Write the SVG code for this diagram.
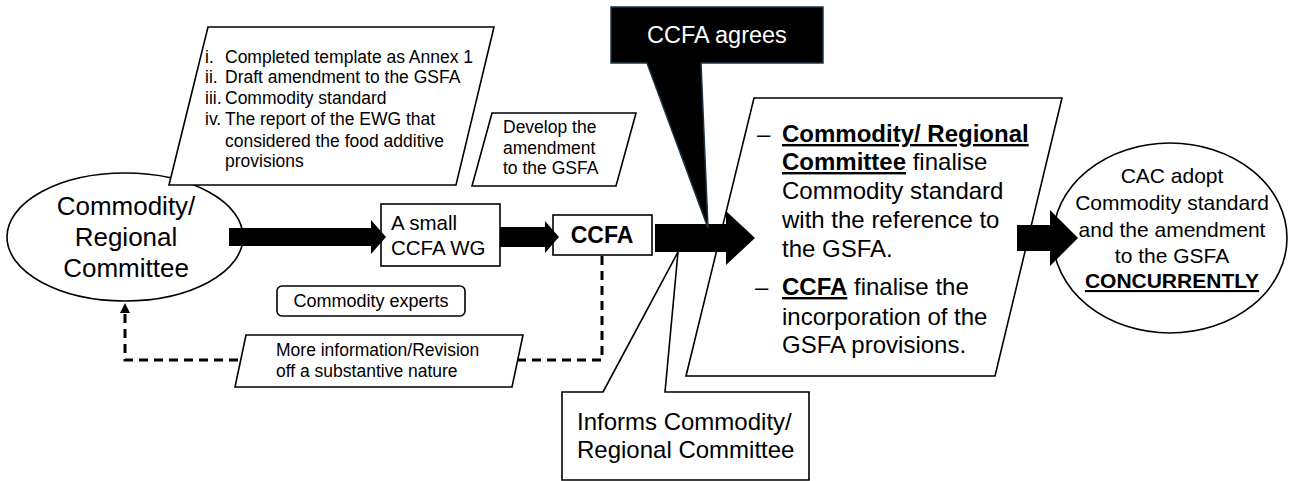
<svg xmlns="http://www.w3.org/2000/svg" width="1290" height="481" viewBox="0 0 1290 481">
<style>
text{font-family:"Liberation Sans",Arial,sans-serif;fill:#000}
.sh{fill:#fff;stroke:#000;stroke-width:1.6}
.arr{fill:#000;stroke:none}
.dash{fill:none;stroke:#000;stroke-width:3;stroke-dasharray:9 6}
.b{font-weight:bold}
.u{text-decoration:underline}
</style>
<rect width="1290" height="481" fill="#fff"/>

<g id="commodity-committee">
<ellipse class="sh" cx="125" cy="237" rx="118" ry="64"/>
<text x="126" y="215" font-size="26" text-anchor="middle">Commodity/</text>
<text x="126" y="246" font-size="26" text-anchor="middle">Regional</text>
<text x="126" y="277" font-size="26" text-anchor="middle">Committee</text>
</g>

<g id="documents">
<polygon class="sh" points="208,27 494,27 456,185 169,185"/>
<g font-size="17.5">
<text x="205" y="63">i.</text><text x="225" y="63">Completed template as Annex 1</text>
<text x="205" y="83">ii.</text><text x="225" y="83">Draft amendment to the GSFA</text>
<text x="205" y="104">iii.</text><text x="225" y="104">Commodity standard</text>
<text x="205" y="125">iv.</text><text x="225" y="125">The report of the EWG that</text>
<text x="225" y="147">considered the food additive</text>
<text x="225" y="167">provisions</text>
</g>
</g>

<g id="develop-amendment">
<polygon class="sh" points="492,113 636,113 616,186 472,186"/>
<g font-size="17.5">
<text x="503" y="133">Develop the</text>
<text x="503" y="154">amendment</text>
<text x="503" y="174">to the GSFA</text>
</g>
</g>

<g id="small-wg">
<rect class="sh" x="381" y="204" width="119" height="62"/>
<text x="391" y="230" font-size="20.5">A small</text>
<text x="391" y="255" font-size="20.5">CCFA WG</text>
</g>

<g id="ccfa">
<rect class="sh" x="553" y="215" width="99" height="40"/>
<text x="602" y="243" font-size="23" class="b" text-anchor="middle">CCFA</text>
</g>

<g id="commodity-experts">
<rect class="sh" x="277" y="286" width="188" height="30" rx="5"/>
<text x="371" y="307" font-size="18" text-anchor="middle">Commodity experts</text>
</g>

<g id="more-information">
<polygon class="sh" points="246,335 523,335 512,387 235,387"/>
<text x="276" y="356" font-size="17.5">More information/Revision</text>
<text x="276" y="377" font-size="17.5">off a substantive nature</text>
</g>

<g id="finalise">
<polygon class="sh" points="754,98 1062,98 995,376 686,376"/>
<g font-size="24">
<text x="757" y="142">–</text>
<text x="782" y="142" class="b u">Commodity/ Regional</text>
<text x="782" y="170"><tspan class="b u">Committee</tspan> finalise</text>
<text x="782" y="199">Commodity standard</text>
<text x="782" y="228">with the reference to</text>
<text x="782" y="257">the GSFA.</text>
<text x="755" y="295">–</text>
<text x="782" y="295"><tspan class="b u">CCFA</tspan> finalise the</text>
<text x="782" y="325">incorporation of the</text>
<text x="782" y="353">GSFA provisions.</text>
</g>
</g>

<g id="cac-adopt">
<ellipse class="sh" cx="1170" cy="238" rx="117" ry="95"/>
<g font-size="21" text-anchor="middle">
<text x="1172" y="183">CAC adopt</text>
<text x="1172" y="210">Commodity standard</text>
<text x="1172" y="237">and the amendment</text>
<text x="1172" y="263">to the GSFA</text>
<text x="1172" y="288" class="b u">CONCURRENTLY</text>
</g>
</g>

<g id="connectors">
<path class="dash" d="M602,256 V360 H518"/>
<path class="dash" d="M238,360 H125 V312"/>
<path d="M120,313 L125,303 L130,313 Z" fill="#000"/>
<polygon class="arr" points="229,228 371,228 371,220 386,237 371,254 371,246 229,246"/>
<polygon class="arr" points="500,227 545,227 545,221 559,237 545,253 545,247 500,247"/>
<polygon class="arr" points="655,224 726,224 726,211 755,238 726,265 726,252 655,252"/>
<polygon class="arr" points="1017,225 1050,225 1050,210 1078,238 1050,266 1050,251 1017,251"/>
</g>

<g id="ccfa-agrees">
<polygon points="611,7 823,7 823,63 701,63 708,228 647,63 611,63" fill="#000" stroke="#1b3445" stroke-width="1.5"/>
<text x="717" y="43" font-size="23.5" text-anchor="middle" style="fill:#fff">CCFA agrees</text>
</g>

<g id="informs">
<path class="sh" d="M603,392 L678,252 L665,392 L809,392 L809,480 L562,480 L562,392 Z"/>
<text x="577" y="430" font-size="24">Informs Commodity/</text>
<text x="577" y="458" font-size="24">Regional Committee</text>
</g>
</svg>
